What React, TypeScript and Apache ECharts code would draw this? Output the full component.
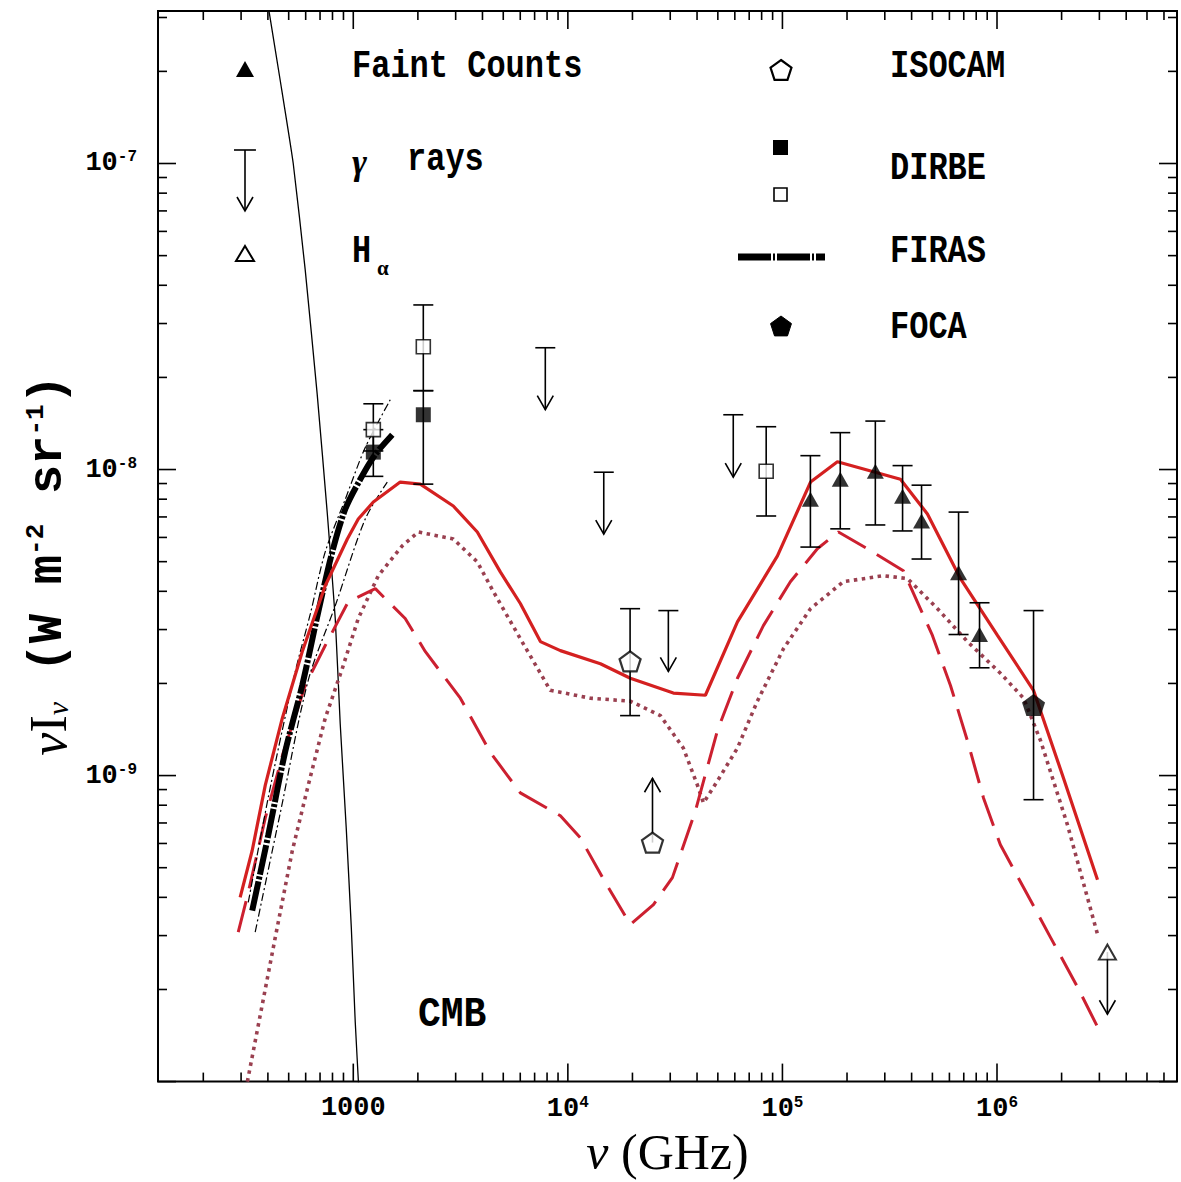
import React, { useEffect, useRef } from 'react';
import * as echarts from 'echarts';

// Axis ranges (GHz, W m^-2 sr^-1)
const X_MIN = 123;
const X_MAX = 6.9e6;
const Y_MIN = 1e-10;
const Y_MAX = 3.15e-7;

// Tick construction
const tickMultipliers = [1, 2, 3, 4, 5, 6, 7, 8, 9];
const xDecades = [100, 1e3, 1e4, 1e5, 1e6];
const yDecades = [1e-10, 1e-9, 1e-8, 1e-7];
const xLabelExponents = [3, 4, 5, 6];
const yLabelExponents = [-9, -8, -7];

// CMB blackbody curve [nu, nuI_nu]
const cmbCurve = [
  [390, 3.7e-7], [457, 1.86e-7], [525, 1.0e-7], [597, 4.49e-8], [679, 1.76e-8],
  [757, 7.16e-9], [824, 3.26e-9], [869, 1.48e-9], [927, 6.75e-10], [979, 3.19e-10],
  [1021, 1.57e-10], [1066, 8.9e-11],
];

// Model curves
const modelSolid = [
  [297, 4.0e-10], [338, 5.69e-10], [389, 9.31e-10], [467, 1.54e-9], [578, 2.54e-9],
  [740, 4.17e-9], [938, 5.93e-9], [1055, 6.89e-9], [1240, 7.83e-9], [1655, 9.1e-9],
  [2053, 8.96e-9], [2925, 7.6e-9], [3784, 6.25e-9], [4844, 4.63e-9], [6005, 3.65e-9],
  [7450, 2.74e-9], [9230, 2.56e-9], [14180, 2.32e-9], [19550, 2.08e-9], [31030, 1.86e-9],
  [43750, 1.83e-9], [61700, 3.18e-9], [94800, 5.22e-9], [1.352e5, 9.1e-9], [1.804e5, 1.06e-8],
  [3.548e5, 9.29e-9], [4.74e5, 7.16e-9], [6.76e5, 4.4e-9], [1.005e6, 2.87e-9],
  [1.479e6, 1.9e-9], [2.04e6, 9.82e-10], [2.94e6, 4.57e-10],
];
const modelDotted = [
  [321, 1.0e-10], [433, 2.96e-10], [520, 5.69e-10], [617, 9.31e-10], [740, 1.54e-9],
  [889, 2.24e-9], [1055, 3.26e-9], [1308, 4.5e-9], [1691, 5.63e-9], [2010, 6.25e-9],
  [2925, 5.93e-9], [3784, 4.99e-9], [4497, 3.99e-9], [6005, 2.8e-9], [8280, 1.9e-9],
  [12730, 1.79e-9], [19550, 1.75e-9], [26990, 1.57e-9], [34520, 1.23e-9], [40160, 9.31e-10],
  [42850, 8.14e-10], [49740, 9.59e-10], [61700, 1.23e-9], [76400, 1.75e-9], [1.012e5, 2.6e-9],
  [1.352e5, 3.51e-9], [1.923e5, 4.3e-9], [2.955e5, 4.5e-9], [3.83e5, 4.4e-9], [5.28e5, 3.51e-9],
  [7.28e5, 2.74e-9], [1.037e6, 2.16e-9], [1.33e6, 1.79e-9], [1.596e6, 1.3e-9],
  [2.13e6, 6.9e-10], [2.94e6, 3.03e-10],
];
const modelDashed = [
  [291, 3.08e-10], [324, 4.15e-10], [389, 7.27e-10], [472, 1.19e-9], [597, 1.97e-9],
  [740, 2.66e-9], [948, 3.7e-9], [1267, 4.08e-9], [1746, 3.26e-9], [2168, 2.54e-9],
  [3155, 1.79e-9], [4355, 1.19e-9], [6005, 8.78e-10], [9230, 7.39e-10], [11430, 6.26e-10],
  [14960, 4.47e-10], [19550, 3.26e-10], [25060, 3.79e-10], [30710, 4.64e-10], [39300, 7.67e-10],
  [49740, 1.4e-9], [61700, 2.08e-9], [81500, 3.09e-9], [1.089e5, 4.3e-9], [1.455e5, 5.51e-9],
  [1.824e5, 6.25e-9], [2.49e5, 5.51e-9], [3.66e5, 4.67e-9], [5.0e5, 2.87e-9], [6.07e5, 1.97e-9],
  [7.28e5, 1.3e-9], [8.65e5, 8.45e-10], [1.037e6, 5.94e-10], [1.387e6, 4.08e-10],
  [1.775e6, 2.96e-10], [2.37e6, 2.04e-10], [2.94e6, 1.51e-10],
];

// FIRAS spectrum and its envelope
const firas = [
  [338, 3.62e-10], [402, 6.41e-10], [482, 1.2e-9], [578, 1.97e-9], [687, 3.43e-9],
  [798, 5.38e-9], [918, 7.43e-9], [1078, 9.29e-9], [1267, 1.12e-8], [1520, 1.3e-8],
];
const firasUpper = [
  [324, 3.85e-10], [410, 9.12e-10], [537, 2.19e-9], [631, 3.38e-9], [740, 5.38e-9],
  [918, 8.0e-9], [1137, 1.18e-8], [1487, 1.69e-8],
];
const firasLower = [
  [349, 3.08e-10], [457, 7.56e-10], [617, 2.05e-9], [824, 3.59e-9], [1137, 6.89e-9], [1440, 9.1e-9],
];

// Data points [nu, value, low, high]
const faintCounts = [
  [1.35e5, 8.0e-9, 5.58e-9, 1.11e-8],
  [1.86e5, 9.29e-9, 6.4e-9, 1.32e-8],
  [2.71e5, 9.87e-9, 6.59e-9, 1.44e-8],
  [3.63e5, 8.18e-9, 6.3e-9, 1.03e-8],
  [4.45e5, 6.79e-9, 5.1e-9, 8.89e-9],
  [6.62e5, 4.6e-9, 2.89e-9, 7.26e-9],
  [8.29e5, 2.89e-9, 2.25e-9, 3.67e-9],
];
const dirbeFilled = [
  [1240, 1.14e-8, 9.5e-9, 1.35e-8],
  [2120, 1.51e-8, 8.96e-9, 1.81e-8],
];
const dirbeOpen = [
  [1240, 1.35e-8, 1.15e-8, 1.64e-8],
  [2120, 2.52e-8, 1.81e-8, 3.45e-8],
  [8.4e4, 9.87e-9, 7.05e-9, 1.38e-8],
];
const isocam = [[1.95e4, 2.36e-9, 1.57e-9, 3.51e-9]];
const foca = [[1.48e6, 1.7e-9, 8.34e-10, 3.46e-9]];
// Limits [nu, start, arrow tip]
const isocamLower = [[2.48e4, 6.04e-10, 9.8e-10]];
const gammaLimits = [
  [7850, 2.5e-8, 1.57e-8],
  [1.47e4, 9.8e-9, 6.15e-9],
  [2.94e4, 3.46e-9, 2.19e-9],
  [5.9e4, 1.51e-8, 9.44e-9],
];
const halphaLimit = [[3.27e6, 2.65e-10, 1.66e-10]];

const PENTAGON = 'path://M10,0 L19.5,6.9 L15.9,18.1 L4.1,18.1 L0.5,6.9 Z';
const MONO = 'Liberation Mono';
const SERIF = 'Liberation Serif';

function buildTicks(decades: number[], lo: number, hi: number) {
  const out: number[][] = [];
  for (const d of decades) {
    for (const m of tickMultipliers) {
      const v = d * m;
      if (v >= lo * 0.9999 && v <= hi) out.push([v, m === 1 ? 1 : 0]);
    }
  }
  return out;
}

const lineSt = { stroke: '#000', lineWidth: 1.6, fill: 'none' };

function errorBarRender(params: any, api: any) {
  const x = api.value(0);
  const pLo = api.coord([x, api.value(2)]);
  const pHi = api.coord([x, api.value(3)]);
  const w = 10;
  return {
    type: 'group',
    children: [
      { type: 'line', shape: { x1: pLo[0], y1: pLo[1], x2: pHi[0], y2: pHi[1] }, style: lineSt },
      { type: 'line', shape: { x1: pLo[0] - w, y1: pLo[1], x2: pLo[0] + w, y2: pLo[1] }, style: lineSt },
      { type: 'line', shape: { x1: pHi[0] - w, y1: pHi[1], x2: pHi[0] + w, y2: pHi[1] }, style: lineSt },
    ],
  };
}

function arrowRender(withCap: boolean) {
  return (params: any, api: any) => {
    const x = api.value(0);
    const p1 = api.coord([x, api.value(1)]);
    const p2 = api.coord([x, api.value(2)]);
    const dir = p2[1] > p1[1] ? 1 : -1;
    const children: any[] = [
      { type: 'line', shape: { x1: p1[0], y1: p1[1], x2: p2[0], y2: p2[1] }, style: lineSt },
      {
        type: 'polyline',
        shape: { points: [[p2[0] - 8, p2[1] - dir * 14], [p2[0], p2[1]], [p2[0] + 8, p2[1] - dir * 14]] },
        style: lineSt,
      },
    ];
    if (withCap) {
      children.push({ type: 'line', shape: { x1: p1[0] - 10, y1: p1[1], x2: p1[0] + 10, y2: p1[1] }, style: lineSt });
    }
    return { type: 'group', children };
  };
}

function pentagonPoints(cx: number, cy: number, r: number) {
  const pts: number[][] = [];
  for (let i = 0; i < 5; i++) {
    const a = (-90 + i * 72) * Math.PI / 180;
    pts.push([cx + r * Math.cos(a), cy + r * Math.sin(a)]);
  }
  return pts;
}

function legendText(text: string, x: number, y: number, size: number, sy: number) {
  return {
    type: 'text', x, y, scaleY: sy, silent: true,
    style: { text, fill: '#000', fontFamily: MONO, fontWeight: 'bold', fontSize: size, align: 'left', verticalAlign: 'middle' },
  };
}

export default function App() {
  const ref = useRef<HTMLDivElement>(null);
  useEffect(() => {
    if (!ref.current) return;
    const chart = echarts.init(ref.current, undefined, { renderer: 'svg' });
    const xTicks = buildTicks(xDecades, X_MIN, X_MAX).map(([v, m]) => [v, Y_MIN, m]);
    const yTicks = buildTicks(yDecades, Y_MIN, Y_MAX).map(([v, m]) => [X_MIN, v, m]);

    const labelRich = {
      n: { fontFamily: MONO, fontWeight: 'bold', fontSize: 27, color: '#000' },
      s: { fontFamily: MONO, fontWeight: 'bold', fontSize: 16, color: '#000', padding: [0, 0, 12, 0] },
    };

    const lineBase = { type: 'line', showSymbol: false, symbol: 'none', silent: true, animation: false, clip: true };

    const option: any = {
      animation: false,
      backgroundColor: '#fff',
      grid: { left: 158, right: 4, top: 11, bottom: 100, show: true, borderColor: '#000', borderWidth: 2, backgroundColor: 'transparent' },
      xAxis: {
        type: 'log', logBase: 10, min: X_MIN, max: X_MAX,
        axisLine: { show: false }, axisTick: { show: false }, splitLine: { show: false },
        axisLabel: {
          margin: 13,
          formatter: (v: number) => {
            const e = Math.log10(v); const r = Math.round(e);
            if (Math.abs(e - r) > 1e-6 || !xLabelExponents.includes(r)) return '';
            return r === 3 ? '{n|1000}' : `{n|10}{s|${r}}`;
          },
          rich: labelRich,
        },
        name: '{g|ν} (GHz)', nameLocation: 'middle', nameGap: 43,
        nameTextStyle: { fontFamily: SERIF, fontSize: 50, color: '#000', rich: { g: { fontFamily: SERIF, fontStyle: 'italic', fontSize: 50, color: '#000' } } },
      },
      yAxis: {
        type: 'log', logBase: 10, min: Y_MIN, max: Y_MAX,
        axisLine: { show: false }, axisTick: { show: false }, splitLine: { show: false },
        axisLabel: {
          margin: 21,
          formatter: (v: number) => {
            const e = Math.log10(v); const r = Math.round(e);
            if (Math.abs(e - r) > 1e-6 || !yLabelExponents.includes(r)) return '';
            return `{n|10}{s|-${-r}}`;
          },
          rich: labelRich,
        },
        name: '{g|ν}{r|I}{sub|ν}{m| (W m}{sup|-2}{m| sr}{sup|-1}{m|)}',
        nameLocation: 'middle', nameGap: 84,
        nameTextStyle: {
          color: '#000', padding: [0, 38, 0, 0],
          rich: {
            g: { fontFamily: SERIF, fontStyle: 'italic', fontSize: 52, color: '#000' },
            r: { fontFamily: SERIF, fontSize: 52, color: '#000' },
            sub: { fontFamily: SERIF, fontStyle: 'italic', fontSize: 30, color: '#000', padding: [18, 0, 0, 0] },
            m: { fontFamily: MONO, fontWeight: 'bold', fontSize: 49, color: '#000' },
            sup: { fontFamily: MONO, fontWeight: 'bold', fontSize: 26, color: '#000', padding: [0, 0, 24, 0] },
          },
        },
      },
      graphic: [
        // left legend column
        { type: 'polygon', shape: { points: [[245, 61], [254, 77], [236, 77]] }, style: { fill: '#000' }, silent: true },
        legendText('Faint Counts', 352, 67, 32, 1.22),
        { type: 'line', shape: { x1: 234, y1: 150, x2: 256, y2: 150 }, style: lineSt, silent: true },
        { type: 'line', shape: { x1: 245, y1: 150, x2: 245, y2: 211 }, style: lineSt, silent: true },
        { type: 'polyline', shape: { points: [[237, 197], [245, 211], [253, 197]] }, style: lineSt, silent: true },
        { type: 'text', x: 352, y: 162, silent: true, style: { text: 'γ', fill: '#000', fontFamily: SERIF, fontStyle: 'italic', fontWeight: 'bold', fontSize: 36, align: 'left', verticalAlign: 'middle' } },
        legendText('rays', 407, 160, 32, 1.22),
        { type: 'polygon', shape: { points: [[245, 246], [254, 261], [236, 261]] }, style: { fill: '#fff', stroke: '#000', lineWidth: 2 }, silent: true },
        legendText('H', 352, 252, 32, 1.22),
        { type: 'text', x: 377, y: 268, silent: true, style: { text: 'α', fill: '#000', fontFamily: SERIF, fontWeight: 'bold', fontSize: 21, align: 'left', verticalAlign: 'middle' } },
        // right legend column
        { type: 'polygon', shape: { points: pentagonPoints(781, 71, 11) }, style: { fill: '#fff', stroke: '#000', lineWidth: 2.2 }, silent: true },
        legendText('ISOCAM', 890, 67, 32, 1.22),
        { type: 'rect', shape: { x: 773, y: 140, width: 15, height: 15 }, style: { fill: '#000' }, silent: true },
        { type: 'rect', shape: { x: 774, y: 188, width: 13, height: 13 }, style: { fill: '#fff', stroke: '#000', lineWidth: 1.6 }, silent: true },
        legendText('DIRBE', 890, 169, 32, 1.22),
        { type: 'line', shape: { x1: 738, y1: 257, x2: 825, y2: 257 }, style: { stroke: '#000', lineWidth: 7, lineDash: [33, 2, 2, 2] }, silent: true },
        legendText('FIRAS', 890, 252, 32, 1.22),
        { type: 'polygon', shape: { points: pentagonPoints(781, 327, 11) }, style: { fill: '#000', stroke: '#000', lineWidth: 1 }, silent: true },
        legendText('FOCA', 890, 328, 32, 1.22),
        legendText('CMB', 418, 1015, 38, 1.1),
      ],
      series: [
        { name: 'ticksX', type: 'custom', silent: true, data: xTicks, z: 10,
          renderItem: (params: any, api: any) => {
            const p = api.coord([api.value(0), Y_MIN]);
            const cs = params.coordSys; const len = api.value(2) ? 18 : 9;
            const top = cs.y, bot = cs.y + cs.height;
            return { type: 'group', children: [
              { type: 'line', shape: { x1: p[0], y1: bot, x2: p[0], y2: bot - len }, style: lineSt },
              { type: 'line', shape: { x1: p[0], y1: top, x2: p[0], y2: top + len }, style: lineSt },
            ] };
          } },
        { name: 'ticksY', type: 'custom', silent: true, data: yTicks, z: 10,
          renderItem: (params: any, api: any) => {
            const p = api.coord([X_MIN, api.value(1)]);
            const cs = params.coordSys; const len = api.value(2) ? 18 : 9;
            const l = cs.x, r = cs.x + cs.width;
            return { type: 'group', children: [
              { type: 'line', shape: { x1: l, y1: p[1], x2: l + len, y2: p[1] }, style: lineSt },
              { type: 'line', shape: { x1: r, y1: p[1], x2: r - len, y2: p[1] }, style: lineSt },
            ] };
          } },
        { ...lineBase, name: 'CMB', data: cmbCurve, smooth: 0.15, lineStyle: { color: '#000', width: 1.3 }, z: 2 },
        { ...lineBase, name: 'Model (dotted)', data: modelDotted, lineStyle: { color: '#9a4050', width: 3.6, type: [3.5, 4.5] }, z: 2 },
        { ...lineBase, name: 'Model (dashed)', data: modelDashed, lineStyle: { color: '#cc2030', width: 3, type: [32, 13] }, z: 2 },
        { ...lineBase, name: 'FIRAS upper', data: firasUpper, smooth: 0.3, lineStyle: { color: '#000', width: 1.2, type: [8, 3, 2, 3] }, z: 3 },
        { ...lineBase, name: 'FIRAS lower', data: firasLower, smooth: 0.3, lineStyle: { color: '#000', width: 1.2, type: [8, 3, 2, 3] }, z: 3 },
        { ...lineBase, name: 'FIRAS', data: firas, smooth: 0.3, lineStyle: { color: '#000', width: 6, type: [30, 2, 3, 2] }, z: 3 },
        { ...lineBase, name: 'Model (solid)', data: modelSolid, lineStyle: { color: '#d42020', width: 3.2 }, z: 4 },
        { name: 'errFaint', type: 'custom', silent: true, data: faintCounts, renderItem: errorBarRender, z: 5 },
        { name: 'errDirbeF', type: 'custom', silent: true, data: dirbeFilled, renderItem: errorBarRender, z: 5 },
        { name: 'errDirbeO', type: 'custom', silent: true, data: dirbeOpen, renderItem: errorBarRender, z: 5 },
        { name: 'errIsocam', type: 'custom', silent: true, data: isocam, renderItem: errorBarRender, z: 5 },
        { name: 'errFoca', type: 'custom', silent: true, data: foca, renderItem: errorBarRender, z: 5 },
        { name: 'γ rays', type: 'custom', silent: true, data: gammaLimits, renderItem: arrowRender(true), z: 5 },
        { name: 'ISOCAM limit', type: 'custom', silent: true, data: isocamLower, renderItem: arrowRender(false), z: 5 },
        { name: 'Hα limit', type: 'custom', silent: true, data: halphaLimit, renderItem: arrowRender(false), z: 5 },
        { name: 'Faint Counts', type: 'scatter', data: faintCounts.map((d) => [d[0], d[1]]), symbol: 'triangle', symbolSize: [17, 15], itemStyle: { color: '#000' }, z: 6, silent: true },
        { name: 'DIRBE filled', type: 'scatter', data: dirbeFilled.map((d) => [d[0], d[1]]), symbol: 'rect', symbolSize: 15, itemStyle: { color: '#000' }, z: 6, silent: true },
        { name: 'DIRBE open', type: 'scatter', data: dirbeOpen.map((d) => [d[0], d[1]]), symbol: 'rect', symbolSize: 14, itemStyle: { color: '#fff', borderColor: '#000', borderWidth: 1.6 }, z: 6, silent: true },
        { name: 'ISOCAM', type: 'scatter', data: [...isocam.map((d) => [d[0], d[1]]), ...isocamLower.map((d) => [d[0], d[1]])], symbol: PENTAGON, symbolSize: [21, 20], itemStyle: { color: '#fff', borderColor: '#000', borderWidth: 2.2 }, z: 6, silent: true },
        { name: 'FOCA', type: 'scatter', data: foca.map((d) => [d[0], d[1]]), symbol: PENTAGON, symbolSize: [23, 22], itemStyle: { color: '#000' }, z: 6, silent: true },
        { name: 'Hα', type: 'scatter', data: halphaLimit.map((d) => [d[0], d[1]]), symbol: 'triangle', symbolSize: [17, 15], itemStyle: { color: '#fff', borderColor: '#000', borderWidth: 2 }, z: 6, silent: true },
      ],
    };
    chart.setOption(option);
    return () => chart.dispose();
  }, []);
  return <div ref={ref} style={{ position: 'fixed', left: 0, top: 0, width: '1181px', height: '1182px', background: '#fff' }} />;
}
